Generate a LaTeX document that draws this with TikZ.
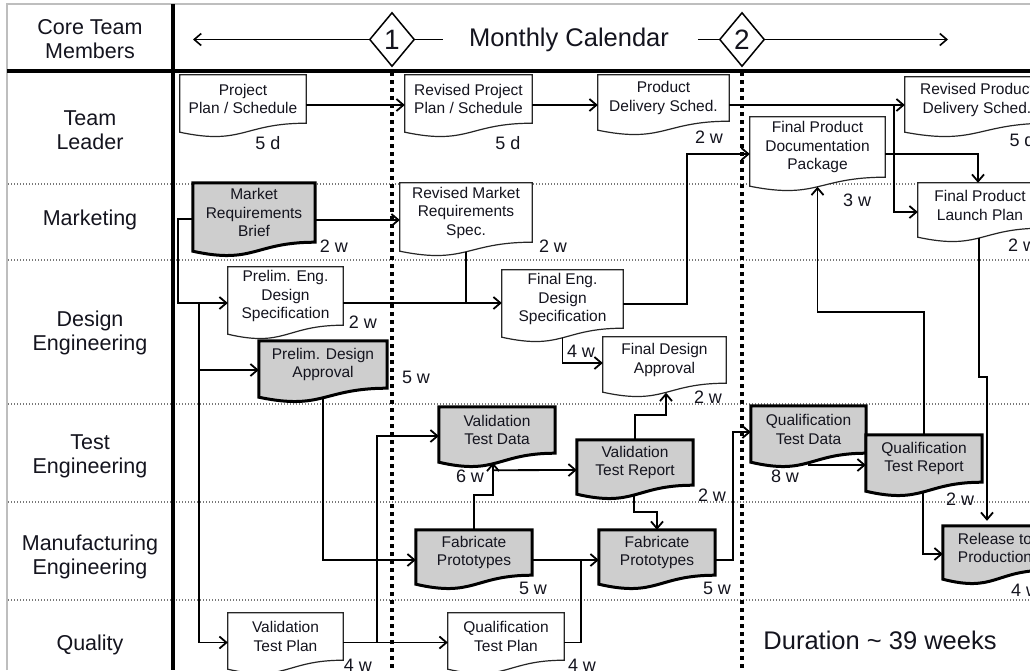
\documentclass[tikz,border=0pt]{standalone}
\usepackage{fontspec}
\setmainfont{Liberation Sans}
\usetikzlibrary{arrows.meta,calc,shapes.geometric}
\pgfdeclarelayer{lanes}
\pgfdeclarelayer{boxes}
\pgfsetlayers{lanes,boxes,main}
\definecolor{boxgray}{RGB}{206,206,206}
\definecolor{ink}{RGB}{20,20,30}
\definecolor{framegray}{RGB}{190,190,190}
\definecolor{lanegray}{RGB}{120,120,120}
\newcommand\boxfont{\fontsize{15.5}{18.5}\selectfont}
\newcommand\durfont{\fontsize{18}{20}\selectfont}
\newcommand\lanefont{\fontsize{21.5}{24.5}\selectfont}
\newcommand\bigfont{\fontsize{25.5}{28}\selectfont}
\tikzset{
  box/.style 2 args={minimum width=#1, minimum height=#2, inner sep=0pt,
    align=center, font=\boxfont, text=ink},
  dur/.style={inner sep=0pt, font=\durfont, text=ink},
  lane/.style={inner sep=0pt, align=center, font=\lanefont, text=ink},
  whitedoc/.style={draw=black!85, line width=1.2pt, fill=white},
  graydoc/.style={draw=black, line width=3pt, fill=boxgray},
  conn/.style={draw=black, line width=1.8pt},
  arr/.style={conn, -{Straight Barb[length=7pt,width=12pt]}},
  hdr/.style={draw=black, line width=1.6pt},
  lanesep/.style={lanegray, line width=1.4pt, dash pattern=on 1.4pt off 1.6pt},
  milestone/.style={black, line width=4pt, dash pattern=on 4pt off 4pt},
  ms/.style={diamond, draw, line width=1.5pt, fill=white, inner sep=0pt,
    minimum width=45, minimum height=54, font=\fontsize{28}{30}\selectfont, text=ink},
}
\begin{document}
\begin{tikzpicture}[x=1pt,y=-1pt]
\useasboundingbox (0,0) rectangle (1030,670);
\clip (0,0) rectangle (1030,670);

% ---------- grid: frame, swim lanes, milestone lines ----------
\begin{pgfonlayer}{lanes}
  \fill[white] (0,0) rectangle (1030,670);
  \draw[framegray, line width=1.5pt] (7,670) -- (7,4) -- (1030,4);
  \foreach \y in {184,260,404,502,600}
    \draw[lanesep] (8,\y) -- (1030,\y);
  \draw[milestone] (392,72) -- (392,670);
  \draw[milestone] (742,72) -- (742,670);
  \draw[line width=4pt] (173,4) -- (173,670);
  \draw[line width=4pt] (7,70.5) -- (1030,70.5);
\end{pgfonlayer}

% ---------- header ----------
\node[lane] (core) at (90,39) {Core Team\\Members};
\node[ms] (m1) at (392,39.5) {1};
\node[ms] (m2) at (742,39.5) {2};
\node[inner sep=0pt, font=\bigfont, text=ink] (mc) at (569,40) {Monthly Calendar};
\coordinate (calL) at (193,39.5);
\coordinate (calR) at (948,39.5);
\draw[hdr, -{Straight Barb[length=7pt,width=12pt]}] (m1.west) -- (calL);
\draw[hdr] (m1.east) -- ($(m1.east)+(28,0)$);
\draw[hdr] ($(m2.west)+(-21,0)$) -- (m2.west);
\draw[hdr, -{Straight Barb[length=7pt,width=12pt]}] (m2.east) -- (calR);

% ---------- lane labels ----------
\node[lane] (l1) at (90,130) {Team\\Leader};
\node[lane] (l2) at (90,220) {Marketing};
\node[lane] (l3) at (90,333) {Design\\Engineering};
\node[lane] (l4) at (90,456.5) {Test\\Engineering};
\node[lane] (l5) at (90,557) {Manufacturing\\Engineering};
\node[lane] (l6) at (90,645) {Quality};

% ---------- deliverables ----------
% Team Leader
\node[box={126}{48}] (ppl) at (243,99) {Project\\Plan / Schedule};
\node[box={127}{48}] (rpp) at (468.5,99) {Revised Project\\Plan / Schedule};
\node[box={131}{46}] (pds) at (663.5,98) {Product\\Delivery Sched.};
\node[box={144}{46}] (rpds) at (977,100) {Revised Product\\Delivery Sched.};
\node[box={135}{60}] (fdp) at (817.5,147) {Final Product\\Documentation\\Package};
% Marketing
\node[box={122}{59}] (mrb) at (254,212.5) {Market\\Requirements\\Brief};
\node[box={132}{59}] (rmr) at (466,212.5) {Revised Market\\Requirements\\Spec.};
\node[box={124}{45}] (fpl) at (980,205.5) {Final Product\\Launch Plan};
% Design Engineering
\node[box={115}{58}] (pes) at (285.5,296) {Prelim. Eng.\\Design\\Specification};
\node[box={128}{47}] (pda) at (323,364.5) {Prelim. Design\\Approval};
\node[box={121}{58}] (fes) at (562.5,299) {Final Eng.\\Design\\Specification};
\node[box={123}{46}] (fda) at (664.5,360) {Final Design\\Approval};
% Test Engineering
\node[box={116}{46}] (vtd) at (497,430) {Validation\\Test Data};
\node[box={116}{45}] (vtr) at (635,462.5) {Validation\\Test Report};
\node[box={115}{47}] (qtd) at (808.5,429.5) {Qualification\\Test Data};
\node[box={116}{47}] (qtr) at (924,458.5) {Qualification\\Test Report};
% Manufacturing Engineering
\node[box={116}{45}] (fp1) at (474,552.5) {Fabricate\\Prototypes};
\node[box={116}{45}] (fp2) at (657,552.5) {Fabricate\\Prototypes};
\node[box={104}{44}] (rtp) at (995,548) {Release to\\Production};
% Quality
\node[box={115}{47}] (vtp) at (285.5,636.5) {Validation\\Test Plan};
\node[box={116}{47}] (qtp) at (506,636.5) {Qualification\\Test Plan};

% document outlines with a wavy lower edge
\begin{pgfonlayer}{boxes}
  \foreach \n in {ppl,rpp,pds,rpds,fdp,rmr,fpl,pes,fes,fda,vtp,qtp}
    \draw[whitedoc] (\n.north west) -- (\n.north east) -- (\n.south east)
      .. controls (\n.south) and ($(\n.south)+(0,22.5)$) .. ($(\n.south west)+(0,9)$) -- cycle;
  \foreach \n in {mrb,pda,vtd,vtr,qtd,qtr,fp1,fp2,rtp}
    \draw[graydoc] (\n.north west) -- (\n.north east) -- (\n.south east)
      .. controls (\n.south) and ($(\n.south)+(0,22.5)$) .. ($(\n.south west)+(0,9)$) -- cycle;
\end{pgfonlayer}

% ---------- durations ----------
\node[dur] (d-ppl) at (268,143) {5 d};
\node[dur] (d-rpp) at (508,143) {5 d};
\node[dur] (d-pds) at (709,137) {2 w};
\node[dur] (d-rpds) at (1022,140) {5 d};
\node[dur] (d-fdp) at (857,200) {3 w};
\node[dur] (d-mrb) at (334,246) {2 w};
\node[dur] (d-rmr) at (553,246) {2 w};
\node[dur] (d-fpl) at (1022,245) {2 w};
\node[dur] (d-pes) at (363,322) {2 w};
\node[dur] (d-pda) at (416,377) {5 w};
\node[dur] (d-fes) at (581,351) {4 w};
\node[dur] (d-fda) at (708,397) {2 w};
\node[dur] (d-vtd) at (470,476) {6 w};
\node[dur] (d-vtr) at (712,495) {2 w};
\node[dur] (d-qtd) at (785,476) {8 w};
\node[dur] (d-qtr) at (960,499) {2 w};
\node[dur] (d-fp1) at (533,588) {5 w};
\node[dur] (d-fp2) at (717,588) {5 w};
\node[dur] (d-rtp) at (1025,590) {4 w};
\node[dur] (d-vtp) at (358,665) {4 w};
\node[dur] (d-qtp) at (582,665) {4 w};

\node[inner sep=0pt, font=\bigfont, text=ink] (total) at (880,640) {Duration \textasciitilde\ 39 weeks};

% ---------- connectors ----------
\draw[arr] ($(ppl.east)+(0,6)$) -- ($(rpp.west)+(0,6)$);
\draw[arr] ($(rpp.east)+(0,6)$) -- ($(pds.west)+(0,7)$);
\draw[arr] ($(pds.east)+(0,7)$) -- ($(rpds.west)+(0,5)$);
\coordinate (j1) at ($(rpds.west)+(-11,5)$);
\draw[arr] (j1) |- ($(fpl.west)+(0,6.5)$);
\draw[arr] ($(fdp.east)+(0,7)$) -| ($(fpl.north)+(-2,0)$);
\draw[arr] (qtr.north) |- ($(fdp.south)+(0,135)$) -- ($(fdp.south)+(0,9.5)$);
\draw[arr] ($(fes.east)+(0,5)$) -| ($(fdp.west)+(-63,7)$) -- ($(fdp.west)+(0,7)$);

\draw[arr] ($(mrb.east)+(0,7.5)$) -- ($(rmr.west)+(0,7.5)$);
\draw[arr] ($(mrb.west)+(0,6.5)$) -| ($(pes.west)+(-50,7)$) -- ($(pes.west)+(0,7)$);
\coordinate (j2) at ($(pes.west)+(-29,7)$);
\draw[arr] (j2) |- ($(pda.west)+(0,5.5)$);
\draw[arr] (j2) |- ($(vtp.west)+(0,6)$);
\draw[arr] ($(pes.east)+(0,7)$) -- ($(fes.west)+(0,4)$);
\draw[conn] ($(rmr.south)+(0,9.5)$) |- ($(fes.west)+(-20,4)$);
\draw[arr] ($(fes.south)+(0,9.5)$) |- ($(fda.west)+(0,3)$);
\draw[arr] ($(pda.south)+(0,9.5)$) |- ($(fp1.west)+(0,7.5)$);

\draw[arr] ($(vtp.east)+(0,6)$) -- ($(qtp.west)+(0,6)$);
\draw[arr] ($(vtp.east)+(34,6)$) |- ($(vtd.west)+(0,6)$);
\draw[conn] ($(qtp.east)+(0,6)$) -| ($(fp2.west)+(-18,7.5)$);
\draw[arr] ($(fp1.east)+(0,7.5)$) -- ($(fp2.west)+(0,7.5)$);
\draw[arr] (fp1.north) |- ($(vtd.south)+(-4,42)$) -- ($(vtd.south)+(-4,9.5)$);
\draw[arr] ($(vtd.south)+(-4,17)$) -- ($(vtr.west)+(0,7.5)$);
\draw[arr] (vtr.north) |- ($(fda.south)+(1.5,32)$) -- ($(fda.south)+(1.5,9.5)$);
\draw[arr] ($(vtr.south)+(-1,9.5)$) |- ($(fp2.north)+(0,-18)$) -- (fp2.north);
\draw[arr] ($(fp2.east)+(0,7.5)$) -| ($(qtd.west)+(-18,2.5)$) -- ($(qtd.west)+(0,2.5)$);
\draw[arr] ($(qtd.south)+(0,9.5)$) |- ($(qtr.west)+(0,6.5)$);
\draw[arr] ($(qtr.south)+(-1,9.5)$) |- ($(rtp.west)+(0,6)$);
\draw[arr] ($(fpl.south)+(-1,9.5)$) -- ($(fpl.south)+(-1,149)$) -| ($(rtp.north)+(-8,-5)$);
\end{tikzpicture}
\end{document}
